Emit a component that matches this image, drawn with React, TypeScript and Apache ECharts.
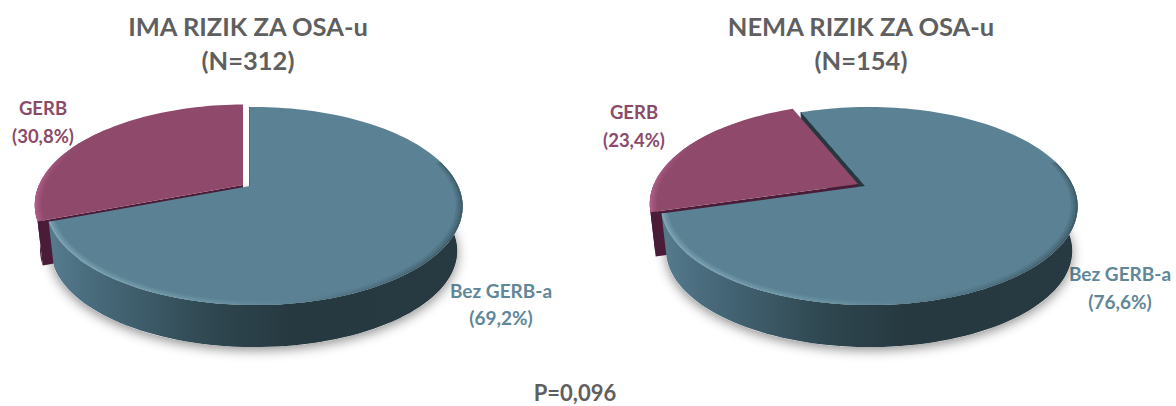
import React, { useEffect, useRef } from "react";
import * as echarts from "echarts";

const categories = ["GERB", "Bez GERB-a"];
const riskShares = [30.8, 69.2];
const noRiskShares = [23.4, 76.6];
const riskTitle = ["IMA RIZIK ZA OSA-u", "(N=312)"];
const noRiskTitle = ["NEMA RIZIK ZA OSA-u", "(N=154)"];
const pValue = "P=0,096";

const FONT = "Lato, Carlito, 'Open Sans', sans-serif";
const GREY = "#5f5f5f";
const MAGENTA_TEXT = "#8b4a69";
const TEAL_TEXT = "#5f8799";

const RX = 204, RY = 95, K = 0.202, L = -0.02, DEPTH = 45, BOTTOM_SCALE = 0.975;
const { LinearGradient } = echarts.graphic as any;

function makeProject(cx: number, cy: number, scale = 1) {
  return (deg: number, r = 1, bottom = false) => {
    const a = (deg * Math.PI) / 180;
    const u = r * Math.sin(a), v = r * Math.cos(a);
    const w = 1 + K * v + L * u;
    const s = (bottom ? BOTTOM_SCALE : 1) * scale;
    return [cx + (s * RX * u) / w, cy + (bottom ? DEPTH : 0) - (s * RY * v) / w];
  };
}

function arc(p: any, from: number, to: number, r = 1, bottom = false) {
  const pts: number[][] = [];
  const n = Math.max(2, Math.ceil(Math.abs(to - from) / 2));
  for (let i = 0; i <= n; i++) pts.push(p(from + ((to - from) * i) / n, r, bottom));
  return pts;
}

function poly(points: number[][], style: any) {
  return { type: "polygon", shape: { points }, style };
}

function sliceParts(p: any, from: number, to: number, c: any) {
  const parts: any[] = [];
  // outer side, only the part facing the viewer
  const f = Math.max(from, 90), t = Math.min(to, 270);
  if (t > f) {
    parts.push(poly([...arc(p, f, t), ...arc(p, t, f, 1, true)], { fill: c.side }));
  }
  if (c.wall) {
    parts.push(poly([p(0, 0), p(from), p(from, 1, true), p(0, 0, true)], { fill: c.wall }));
  }
  parts.push(poly([p(0, 0), ...arc(p, from, to)], { fill: c.face }));
  // soft bevel along the front of the rim
  const bf = Math.max(from, c.rimFrom), bt = Math.min(to, c.rimTo);
  [
    [0.97, 0.98, 0.3],
    [0.98, 0.99, 0.6],
    [0.99, 1, 1],
  ].forEach(([r1, r2, o]) => {
    parts.push(poly([...arc(p, bf, bt, r2), ...arc(p, bt, bf, r1)], { fill: c.rim, opacity: o }));
  });
  return parts;
}

function pieSeries(shares: number[], cx: number, cy: number, startDeg: number, explode: number[]) {
  const tealEnd = startDeg + (shares[1] / 100) * 360;
  const tealP = makeProject(cx, cy);
  const magP = makeProject(cx + explode[0], cy + explode[1], 1.02);
  return {
    type: "custom",
    coordinateSystem: "none",
    silent: true,
    data: [shares[0], shares[1]],
    renderItem: (params: any) => {
      const children: any[] = [];
      if (params.dataIndex === 0) {
        // ground shadow
        children.push(
          poly([...arc(tealP, 60, 300, 1, true)], {
            fill: "#ffffff",
            shadowBlur: 12,
            shadowColor: "rgba(0,0,0,0.45)",
            shadowOffsetY: 3,
          })
        );
        // cut wall of the large slice, seen through the gap
        children.push(
          poly([tealP(startDeg), tealP(0, 0), tealP(0, 0, true), tealP(startDeg, 1, true)], {
            fill: "#24383f",
            stroke: "#24383f",
            lineWidth: 1,
          })
        );
        children.push(
          ...sliceParts(magP, tealEnd, startDeg + 360, {
            side: "#4a1c38",
            wall: "#4a1c38",
            rim: new LinearGradient(0, 0, 1, 0, [
              { offset: 0, color: "#b05c88" },
              { offset: 0.6, color: "#8f4a6b" },
              { offset: 1, color: "#8f4a6b" },
            ]),
            rimFrom: 240,
            rimTo: 310,
            face: "#8f4a6b",
          })
        );
      } else {
        children.push(
          ...sliceParts(tealP, startDeg, tealEnd, {
            side: new LinearGradient(0, 0, 1, 0, [
              { offset: 0, color: "#557c8d" },
              { offset: 0.12, color: "#47697a" },
              { offset: 0.4, color: "#2e464f" },
              { offset: 0.6, color: "#263840" },
              { offset: 1, color: "#273a42" },
            ]),
            rim: new LinearGradient(0, 0, 1, 0, [
              { offset: 0, color: "#7fa6b5" },
              { offset: 0.4, color: "#6b93a3" },
              { offset: 0.75, color: "#4d7081" },
              { offset: 1, color: "#3f5c69" },
            ]),
            rimFrom: 75,
            rimTo: 290,
            face: "#5b8294",
          })
        );
      }
      return { type: "group", children };
    },
  };
}

function text(x: number, y: number, t: string, size: number, fill: string) {
  return {
    type: "text",
    x,
    y,
    style: { text: t, font: `bold ${size}px ${FONT}`, fill, textAlign: "center", textVerticalAlign: "middle" },
  };
}

const pct = (v: number) => `(${String(v).replace(".", ",")}%)`;

export default function App() {
  const ref = useRef<HTMLDivElement>(null);
  useEffect(() => {
    const chart = echarts.init(ref.current!, null, { renderer: "svg" });
    chart.setOption({
      animation: false,
      backgroundColor: "#ffffff",
      series: [
        pieSeries(riskShares, 250, 186, 0, [-7, -1]),
        pieSeries(noRiskShares, 865, 186, -22, [-7, -2]),
      ],
      graphic: [
        text(248, 26, riskTitle[0], 25.5, GREY),
        text(248, 60, riskTitle[1], 25.5, GREY),
        text(861, 26, noRiskTitle[0], 25.5, GREY),
        text(861, 60, noRiskTitle[1], 25.5, GREY),
        text(43, 108, categories[0], 18.5, MAGENTA_TEXT),
        text(43, 136, pct(riskShares[0]), 18.5, MAGENTA_TEXT),
        text(634, 112, categories[0], 18.5, MAGENTA_TEXT),
        text(634, 140, pct(noRiskShares[0]), 18.5, MAGENTA_TEXT),
        text(501, 290, categories[1], 19, TEAL_TEXT),
        text(501, 317, pct(riskShares[1]), 19, TEAL_TEXT),
        text(1120, 273, categories[1], 19, TEAL_TEXT),
        text(1120, 301, pct(noRiskShares[1]), 19, TEAL_TEXT),
        text(575, 392, pValue, 22, GREY),
      ],
    });
    return () => chart.dispose();
  }, []);
  return <div ref={ref} style={{ position: "absolute", left: 0, top: 0, width: 1176, height: 406 }} />;
}
